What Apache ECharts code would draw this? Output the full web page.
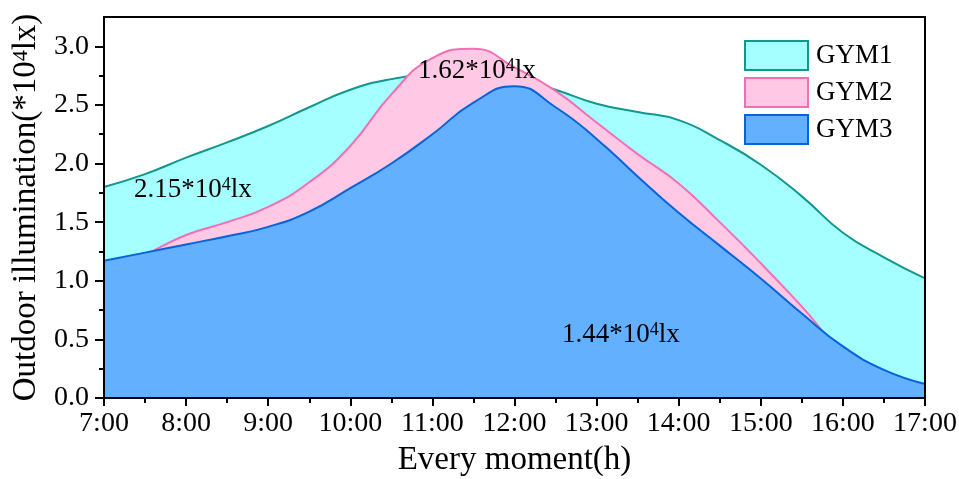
<!DOCTYPE html>
<html>
<head>
<meta charset="utf-8">
<script src="https://cdn.jsdelivr.net/npm/echarts@6/dist/echarts.min.js"></script>
<style>
  html, body { margin: 0; padding: 0; background: #fff; }
  #chart { width: 959px; height: 479px; }
</style>
</head>
<body>
<div id="chart"></div>
<script>
  // time of day (h), every half hour
  var hours = [7, 7.5, 8, 8.5, 9, 9.5, 10, 10.5, 11, 11.5, 12, 12.5, 13, 13.5, 14, 14.5, 15, 15.5, 16, 16.5, 17];

  // outdoor illumination (*10^4 lx)
  var gym1 = [1.80, 1.91, 2.05, 2.18, 2.32, 2.48, 2.63, 2.72, 2.76, 2.77, 2.73, 2.63, 2.51, 2.44, 2.37, 2.20, 1.99, 1.72, 1.41, 1.20, 1.02];
  var gym2 = [1.05, 1.22, 1.39, 1.50, 1.63, 1.84, 2.15, 2.59, 2.90, 2.98, 2.82, 2.62, 2.35, 2.08, 1.83, 1.50, 1.15, 0.78, 0.40, 0.20, 0.08];
  var gym3 = [1.17, 1.24, 1.31, 1.38, 1.46, 1.59, 1.79, 2.00, 2.25, 2.52, 2.66, 2.48, 2.21, 1.89, 1.58, 1.30, 1.02, 0.72, 0.44, 0.24, 0.12];

  var yLabels = [0, 0.5, 1.0, 1.5, 2.0, 2.5, 3.0];
  var yMinor = [0.25, 0.75, 1.25, 1.75, 2.25, 2.75];

  var names = ['GYM1', 'GYM2', 'GYM3'];
  var fills = ['#A6FFFF', '#FFC9E6', '#62B0FF'];
  var lines = ['#13968B', '#F36FB5', '#0564D6'];

  var font = '"Liberation Serif", "Times New Roman", serif';

  function pairs(vals) {
    return hours.map(function (h, i) { return [h, vals[i]]; });
  }

  function makeSeries(idx, vals) {
    return {
      name: names[idx],
      type: 'line',
      z: 2 + idx,   // later gym covers earlier one, line included
      data: pairs(vals),
      smooth: 0.5,
      showSymbol: false,
      symbol: 'none',
      animation: false,
      lineStyle: { color: lines[idx], width: 2 },
      itemStyle: { color: lines[idx] },
      areaStyle: { color: fills[idx], opacity: 1 }
    };
  }

  function note(text, x, y) {
    return {
      type: 'text', left: x, top: y, z: 100,
      style: {
        text: text, fontFamily: font, fontSize: 27, fill: '#000',
        rich: { sup: { fontFamily: font, fontSize: 18, verticalAlign: 'top' } }
      }
    };
  }

  var chart = echarts.init(document.getElementById('chart'));

  chart.setOption({
    animation: false,
    grid: {
      left: 104, right: 34, top: 17, bottom: 81,
      outerBoundsMode: 'none',
      show: true, borderColor: '#000', borderWidth: 2, backgroundColor: 'transparent', z: 10
    },
    legend: {
      orient: 'vertical',
      left: 744,
      top: 40,
      padding: 0,
      icon: 'rect',
      itemWidth: 63,
      itemHeight: 29,
      itemGap: 6,
      textStyle: { fontFamily: font, fontSize: 27, lineHeight: 29, color: '#000', padding: [0, 0, 0, 3] },
      data: names.map(function (n, i) {
        return { name: n, itemStyle: { color: fills[i], borderColor: lines[i], borderWidth: 2 } };
      })
    },
    xAxis: {
      type: 'value',
      min: 7,
      max: 17,
      interval: 1,
      name: 'Every moment(h)',
      nameLocation: 'middle',
      nameGap: 46,
      nameTextStyle: { fontFamily: font, fontSize: 33, color: '#000' },
      axisLine: { lineStyle: { color: '#000', width: 2 } },
      axisTick: { length: 8, lineStyle: { color: '#000', width: 2 } },
      minorTick: { show: true, splitNumber: 2, length: 5, lineStyle: { color: '#000', width: 2 } },
      splitLine: { show: false },
      minorSplitLine: { show: false },
      axisLabel: {
        fontFamily: font, fontSize: 28, color: '#000', margin: 12,
        formatter: function (v) { return v + ':00'; }
      }
    },
    yAxis: [{
      type: 'value',
      min: 0,
      max: 3.25,
      name: 'Outdoor illumination(*10{sup|4}lx)',
      nameLocation: 'middle',
      nameGap: 58,
      nameTextStyle: {
        fontFamily: font, fontSize: 33, color: '#000',
        rich: { sup: { fontFamily: font, fontSize: 22, verticalAlign: 'top', color: '#000' } }
      },
      axisLine: { show: true, lineStyle: { color: '#000', width: 2 } },
      axisTick: { show: true, length: 9, customValues: yLabels, lineStyle: { color: '#000', width: 2 } },
      splitLine: { show: false },
      axisLabel: {
        fontFamily: font, fontSize: 28, color: '#000', margin: 15,
        customValues: yLabels,
        formatter: function (v) { return v.toFixed(1); }
      }
    }, {
      type: 'value',
      min: 0,
      max: 3.25,
      position: 'left',
      axisLine: { show: false },
      axisTick: { show: true, length: 5, customValues: yMinor, lineStyle: { color: '#000', width: 2 } },
      axisLabel: { show: false },
      splitLine: { show: false }
    }],
    graphic: [
      note('2.15*10{sup|4}lx', 134, 176),
      note('1.62*10{sup|4}lx', 418, 57),
      note('1.44*10{sup|4}lx', 562, 321)
    ],
    series: [
      makeSeries(0, gym1),
      makeSeries(1, gym2),
      makeSeries(2, gym3)
    ]
  });
</script>
</body>
</html>
